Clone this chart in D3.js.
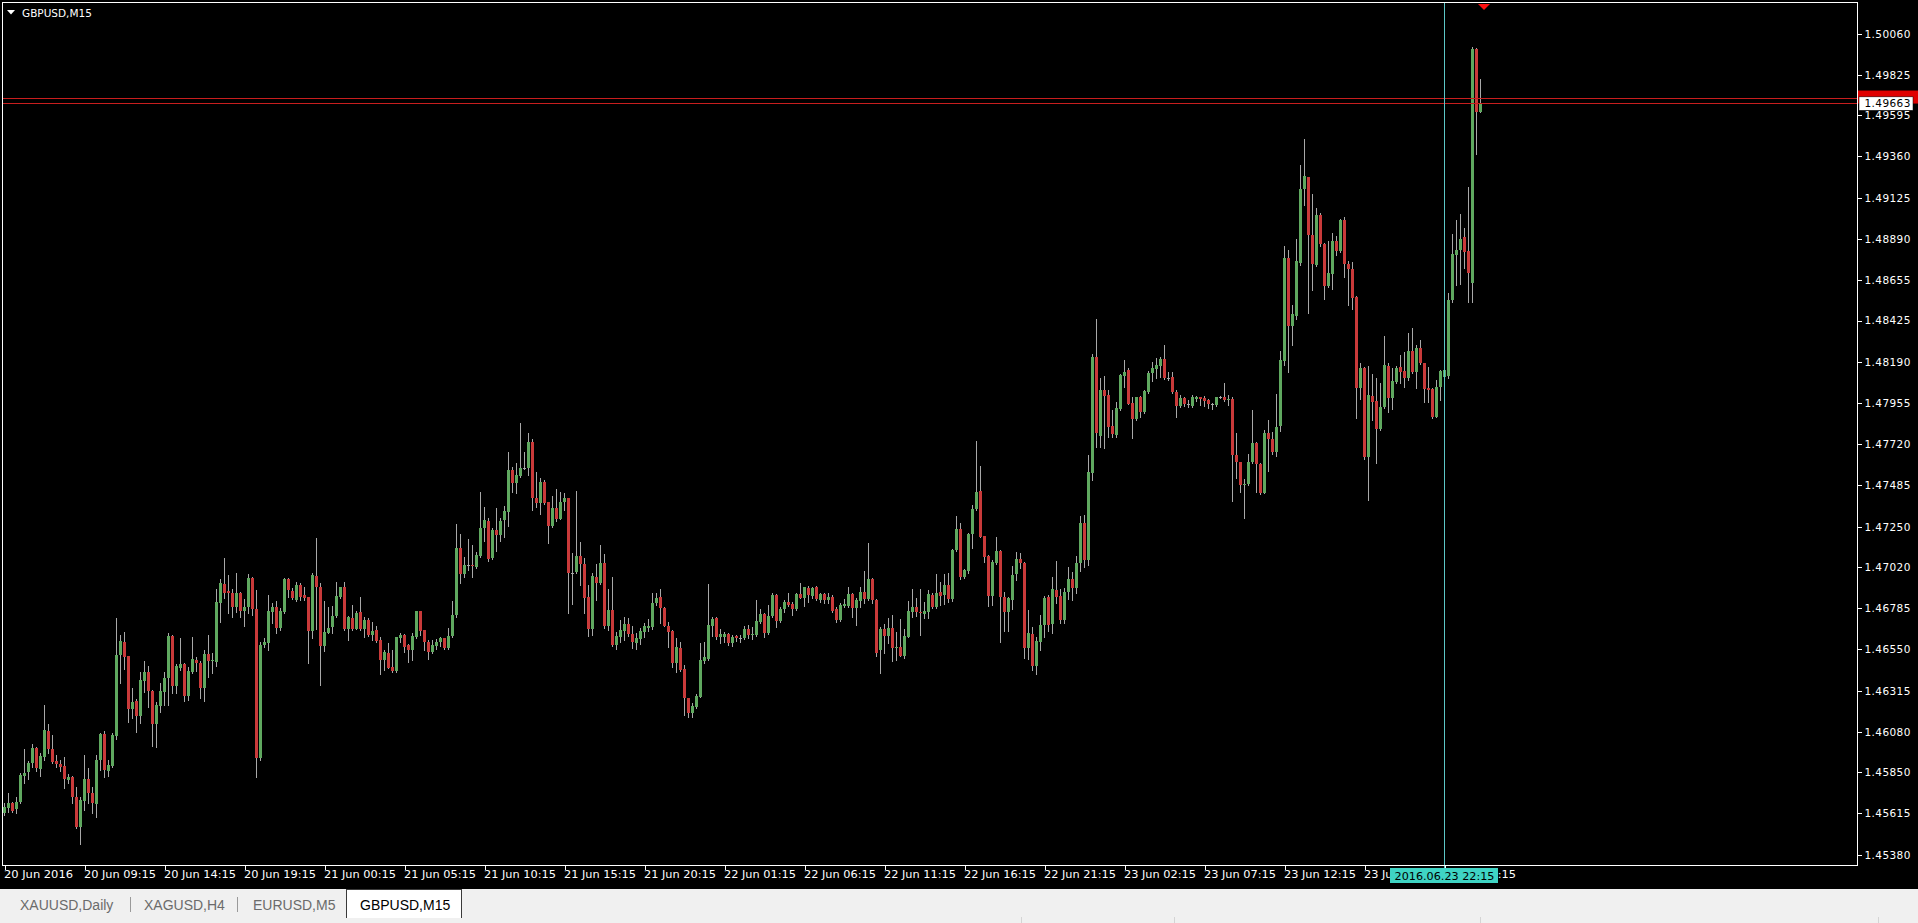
<!DOCTYPE html>
<html>
<head>
<meta charset="utf-8">
<script src="https://cdn.jsdelivr.net/npm/d3@7/dist/d3.min.js"></script>
<style>
  html, body { margin: 0; padding: 0; background: #000; overflow: hidden; }
  svg { display: block; }
</style>
</head>
<body>
<svg id="chart" width="1918" height="923"></svg>
<script>
// ---------------- DATA ----------------
const symbolTitle = "GBPUSD,M15";
const opens = [
1.45620,1.45648,1.45673,1.45639,1.45683,1.45829,1.45850,1.45901,1.45987,1.45871,
1.45939,1.46087,1.45981,1.45914,1.45897,1.45886,1.45806,1.45823,1.45707,1.45536,
1.45688,1.45810,1.45730,1.45669,1.45920,1.46068,1.45859,1.45888,1.46059,1.46519,
1.46591,1.46513,1.46209,1.46256,1.46173,1.46372,1.46420,1.46315,1.46123,1.46230,
1.46310,1.46386,1.46627,1.46344,1.46446,1.46465,1.46287,1.46423,1.46490,1.46471,
1.46332,1.46524,1.46486,1.46480,1.46817,1.46921,1.46883,1.46870,1.46794,1.46870,
1.46769,1.46790,1.46956,1.46779,1.45929,1.46575,1.46589,1.46766,1.46790,1.46671,
1.46766,1.46952,1.46883,1.46832,1.46918,1.46860,1.46847,1.46657,1.46969,1.46908,
1.46572,1.46646,1.46680,1.46741,1.46851,1.46904,1.46667,1.46728,1.46667,1.46762,
1.46667,1.46718,1.46633,1.46661,1.46604,1.46490,1.46528,1.46448,1.46429,1.46617,
1.46633,1.46574,1.46547,1.46623,1.46769,1.46661,1.46591,1.46538,1.46572,1.46591,
1.46614,1.46557,1.46629,1.46747,1.47130,1.46978,1.47031,1.47033,1.47022,1.47085,
1.47240,1.47282,1.47070,1.47231,1.47203,1.47288,1.47335,1.47573,1.47497,1.47541,
1.47583,1.47586,1.47731,1.47411,1.47383,1.47506,1.47389,1.47256,1.47355,1.47294,
1.47389,1.47411,1.46984,1.46990,1.47083,1.47037,1.46847,1.46667,1.46961,1.46927,
1.47041,1.46684,1.46775,1.46576,1.46623,1.46657,1.46695,1.46638,1.46589,1.46610,
1.46652,1.46674,1.46678,1.46813,1.46847,1.46785,1.46686,1.46655,1.46471,1.46560,
1.46437,1.46272,1.46186,1.46224,1.46281,1.46486,1.46494,1.46686,1.46727,1.46623,
1.46623,1.46638,1.46589,1.46627,1.46614,1.46614,1.46665,1.46632,1.46632,1.46709,
1.46750,1.46646,1.46741,1.46861,1.46714,1.46779,1.46819,1.46809,1.46781,1.46864,
1.46842,1.46902,1.46857,1.46904,1.46832,1.46864,1.46830,1.46847,1.46781,1.46718,
1.46798,1.46800,1.46866,1.46785,1.46828,1.46876,1.46836,1.46952,1.46832,1.46547,
1.46667,1.46629,1.46671,1.46557,1.46562,1.46515,1.46623,1.46766,1.46790,1.46766,
1.46752,1.46766,1.46861,1.46794,1.46876,1.46861,1.46918,1.46836,1.47117,1.47237,
1.46965,1.46999,1.47206,1.47349,1.47453,1.47197,1.47083,1.46857,1.47041,1.47113,
1.46851,1.46766,1.46832,1.46980,1.47066,1.47045,1.46560,1.46638,1.46456,1.46594,
1.46690,1.46847,1.46695,1.46889,1.46855,1.46718,1.46880,1.46950,1.46900,1.47040,
1.47273,1.47060,1.47558,1.48219,1.47769,1.48029,1.48001,1.47824,1.47772,1.47921,
1.48111,1.48143,1.47953,1.47862,1.47991,1.47902,1.48019,1.48124,1.48149,1.48168,
1.48204,1.48096,1.48101,1.48020,1.47940,1.47982,1.47949,1.47940,1.47976,1.47987,
1.47985,1.47972,1.47947,1.47944,1.47987,1.47987,1.47972,1.47978,1.47659,1.47617,
1.47488,1.47491,1.47617,1.47725,1.47605,1.47444,1.47782,1.47748,1.47678,1.47824,
1.48196,1.48783,1.48396,1.48451,1.48755,1.49173,1.49241,1.48913,1.48742,1.49027,
1.48861,1.48624,1.48690,1.48880,1.48823,1.48998,1.48745,1.48717,1.48561,1.48039,
1.48153,1.47649,1.47995,1.47966,1.47805,1.47930,1.48166,1.47982,1.48077,1.48162,
1.48137,1.48096,1.48251,1.48134,1.48266,1.48181,1.48039,1.48033,1.47877,1.48044,
1.48105,1.48111,1.48542,1.48799,1.48827,1.48899,1.48821,1.48641,1.49971,1.49615
];
const highs = [
1.45673,1.45730,1.45683,1.45707,1.45844,1.45981,1.45914,1.46011,1.45996,1.45958,
1.46234,1.46125,1.46063,1.45949,1.45920,1.45935,1.45838,1.45831,1.45764,1.45707,
1.45949,1.45873,1.45768,1.45949,1.46076,1.46087,1.45920,1.46076,1.46728,1.46633,
1.46650,1.46513,1.46329,1.46266,1.46424,1.46484,1.46456,1.46319,1.46253,1.46357,
1.46424,1.46642,1.46633,1.46467,1.46617,1.46471,1.46452,1.46619,1.46509,1.46486,
1.46547,1.46633,1.46532,1.46895,1.46950,1.47073,1.46975,1.46895,1.46984,1.46880,
1.46836,1.46980,1.46961,1.46889,1.46594,1.46614,1.46861,1.46817,1.46826,1.46785,
1.46959,1.46956,1.46902,1.46933,1.46927,1.46908,1.46851,1.46984,1.47187,1.46927,
1.46826,1.46790,1.46798,1.46933,1.46908,1.46933,1.46743,1.46803,1.46769,1.46851,
1.46737,1.46728,1.46705,1.46686,1.46623,1.46547,1.46585,1.46547,1.46623,1.46642,
1.46636,1.46581,1.46642,1.46771,1.46771,1.46661,1.46604,1.46604,1.46608,1.46623,
1.46617,1.46670,1.46826,1.47265,1.47208,1.47079,1.47178,1.47145,1.47107,1.47450,
1.47364,1.47297,1.47241,1.47355,1.47301,1.47368,1.47674,1.47588,1.47611,1.47839,
1.47678,1.47782,1.47748,1.47564,1.47526,1.47516,1.47392,1.47425,1.47463,1.47450,
1.47444,1.47415,1.47098,1.47453,1.47161,1.47070,1.46918,1.46988,1.47037,1.47145,
1.47094,1.46895,1.46965,1.46652,1.46718,1.46737,1.46731,1.46686,1.46642,1.46671,
1.46703,1.46722,1.46870,1.46874,1.46893,1.46794,1.46709,1.46661,1.46614,1.46595,
1.46462,1.46275,1.46243,1.46296,1.46589,1.46595,1.46923,1.46737,1.46737,1.46667,
1.46652,1.46642,1.46632,1.46632,1.46632,1.46684,1.46690,1.46680,1.46832,1.46779,
1.46756,1.46804,1.46870,1.46866,1.46794,1.46832,1.46870,1.46823,1.46870,1.46931,
1.46908,1.46912,1.46908,1.46912,1.46874,1.46874,1.46874,1.46861,1.46794,1.46813,
1.46836,1.46904,1.46874,1.46842,1.46904,1.46997,1.47155,1.46956,1.46836,1.46676,
1.46693,1.46728,1.46747,1.46652,1.46722,1.46665,1.46826,1.46893,1.46842,1.46893,
1.46822,1.46889,1.46874,1.46978,1.46937,1.46980,1.46984,1.47121,1.47311,1.47269,
1.47007,1.47212,1.47374,1.47738,1.47596,1.47197,1.47089,1.47060,1.47189,1.47117,
1.46880,1.46851,1.47028,1.47104,1.47098,1.47051,1.46775,1.46680,1.46623,1.46747,
1.46855,1.46861,1.46965,1.47054,1.46893,1.46900,1.47020,1.46990,1.47080,1.47311,
1.47317,1.47659,1.48234,1.48434,1.48096,1.48109,1.48029,1.47915,1.47959,1.48120,
1.48200,1.48153,1.47991,1.47991,1.47995,1.48029,1.48139,1.48191,1.48210,1.48219,
1.48286,1.48134,1.48134,1.48029,1.48001,1.47991,1.47972,1.48001,1.47997,1.47991,
1.47995,1.47978,1.47957,1.47991,1.47995,1.48067,1.48001,1.47991,1.47786,1.47621,
1.47520,1.47662,1.47915,1.47735,1.47611,1.47801,1.47858,1.47792,1.48004,1.48251,
1.48850,1.48827,1.48514,1.48890,1.49312,1.49460,1.49245,1.49146,1.49065,1.49036,
1.48865,1.48880,1.48922,1.48907,1.49006,1.49017,1.48764,1.48760,1.48565,1.48181,
1.48162,1.48168,1.48120,1.48096,1.48067,1.48337,1.48181,1.48153,1.48166,1.48228,
1.48248,1.48356,1.48381,1.48286,1.48314,1.48185,1.48162,1.48039,1.48086,1.48143,
1.48150,1.48584,1.48916,1.48998,1.49030,1.48951,1.49184,1.49986,1.49977,1.49802
];
const lows = [
1.45607,1.45626,1.45626,1.45620,1.45673,1.45787,1.45812,1.45882,1.45857,1.45829,
1.45920,1.45962,1.45901,1.45878,1.45857,1.45762,1.45787,1.45673,1.45530,1.45441,
1.45635,1.45673,1.45620,1.45597,1.45863,1.45825,1.45829,1.45878,1.46038,1.46357,
1.46437,1.46139,1.46158,1.46082,1.46129,1.46310,1.46224,1.46002,1.45996,1.46196,
1.46234,1.46234,1.46300,1.46300,1.46433,1.46258,1.46262,1.46418,1.46429,1.46272,
1.46258,1.46395,1.46414,1.46456,1.46709,1.46842,1.46760,1.46737,1.46766,1.46737,
1.46686,1.46756,1.46747,1.45825,1.45920,1.46566,1.46547,1.46703,1.46646,1.46661,
1.46760,1.46851,1.46836,1.46826,1.46832,1.46832,1.46475,1.46617,1.46665,1.46348,
1.46543,1.46642,1.46646,1.46737,1.46842,1.46661,1.46604,1.46661,1.46665,1.46661,
1.46623,1.46627,1.46604,1.46591,1.46410,1.46433,1.46442,1.46420,1.46424,1.46594,
1.46538,1.46480,1.46490,1.46614,1.46633,1.46547,1.46494,1.46532,1.46551,1.46570,
1.46551,1.46551,1.46623,1.46733,1.46927,1.46961,1.47003,1.46961,1.47012,1.47079,
1.47168,1.47056,1.47064,1.47113,1.47168,1.47193,1.47254,1.47450,1.47444,1.47535,
1.47577,1.47545,1.47345,1.47364,1.47322,1.47379,1.47159,1.47250,1.47284,1.47292,
1.47345,1.46760,1.46809,1.46984,1.46918,1.46760,1.46629,1.46633,1.46832,1.46923,
1.46671,1.46661,1.46570,1.46551,1.46594,1.46604,1.46629,1.46557,1.46553,1.46581,
1.46619,1.46657,1.46667,1.46804,1.46703,1.46684,1.46566,1.46452,1.46420,1.46429,
1.46177,1.46167,1.46163,1.46214,1.46277,1.46471,1.46490,1.46627,1.46608,1.46585,
1.46595,1.46576,1.46572,1.46600,1.46595,1.46608,1.46617,1.46608,1.46627,1.46699,
1.46619,1.46638,1.46733,1.46680,1.46709,1.46765,1.46798,1.46746,1.46775,1.46842,
1.46800,1.46819,1.46842,1.46832,1.46823,1.46813,1.46813,1.46766,1.46705,1.46712,
1.46794,1.46794,1.46737,1.46690,1.46794,1.46817,1.46832,1.46817,1.46513,1.46418,
1.46528,1.46585,1.46484,1.46490,1.46513,1.46500,1.46619,1.46737,1.46743,1.46632,
1.46728,1.46728,1.46788,1.46788,1.46804,1.46809,1.46823,1.46826,1.47113,1.46952,
1.46959,1.46984,1.47130,1.47345,1.47189,1.47047,1.46800,1.46804,1.47037,1.46595,
1.46655,1.46655,1.46781,1.46946,1.47013,1.46500,1.46494,1.46433,1.46408,1.46547,
1.46623,1.46655,1.46642,1.46813,1.46699,1.46700,1.46840,1.46830,1.46870,1.47000,
1.47020,1.47030,1.47516,1.47706,1.47706,1.47697,1.47763,1.47759,1.47763,1.47915,
1.48044,1.47947,1.47757,1.47858,1.47873,1.47896,1.48014,1.48082,1.48096,1.48101,
1.48092,1.48086,1.48010,1.47877,1.47934,1.47938,1.47934,1.47934,1.47968,1.47944,
1.47938,1.47925,1.47919,1.47938,1.47982,1.47968,1.47944,1.47396,1.47529,1.47450,
1.47297,1.47488,1.47611,1.47446,1.47436,1.47440,1.47569,1.47664,1.47653,1.47797,
1.48172,1.48130,1.48286,1.48432,1.48742,1.49084,1.48470,1.48599,1.48738,1.48850,
1.48548,1.48618,1.48605,1.48799,1.48817,1.48675,1.48514,1.48489,1.47868,1.47976,
1.47634,1.47402,1.47858,1.47611,1.47801,1.47925,1.47906,1.47919,1.48067,1.48067,
1.48044,1.48086,1.48124,1.48039,1.48175,1.47963,1.47963,1.47868,1.47873,1.47972,
1.48100,1.48096,1.48533,1.48627,1.48633,1.48726,1.48533,1.48533,1.49372,1.49612
];
const closes = [
1.45654,1.45673,1.45631,1.45683,1.45835,1.45844,1.45901,1.45987,1.45873,1.45943,
1.46091,1.45981,1.45910,1.45897,1.45882,1.45810,1.45823,1.45707,1.45536,1.45692,
1.45810,1.45730,1.45673,1.45920,1.46068,1.45863,1.45892,1.46063,1.46519,1.46598,
1.46509,1.46209,1.46249,1.46173,1.46376,1.46420,1.46315,1.46123,1.46234,1.46313,
1.46386,1.46627,1.46344,1.46456,1.46465,1.46287,1.46427,1.46496,1.46475,1.46332,
1.46522,1.46486,1.46492,1.46819,1.46927,1.46874,1.46874,1.46794,1.46870,1.46771,
1.46790,1.46956,1.46779,1.45933,1.46575,1.46591,1.46769,1.46790,1.46671,1.46769,
1.46952,1.46889,1.46842,1.46918,1.46851,1.46845,1.46657,1.46975,1.46908,1.46572,
1.46648,1.46671,1.46741,1.46855,1.46904,1.46667,1.46733,1.46667,1.46760,1.46667,
1.46718,1.46633,1.46655,1.46600,1.46490,1.46534,1.46446,1.46429,1.46619,1.46633,
1.46566,1.46547,1.46627,1.46769,1.46657,1.46591,1.46538,1.46576,1.46594,1.46615,
1.46560,1.46629,1.46747,1.47130,1.46978,1.47031,1.47033,1.47026,1.47089,1.47244,
1.47288,1.47064,1.47231,1.47203,1.47282,1.47339,1.47573,1.47501,1.47545,1.47583,
1.47587,1.47731,1.47411,1.47383,1.47506,1.47387,1.47256,1.47355,1.47292,1.47389,
1.47411,1.46984,1.46986,1.47083,1.47035,1.46845,1.46667,1.46969,1.46927,1.47041,
1.46684,1.46775,1.46576,1.46627,1.46661,1.46695,1.46638,1.46591,1.46614,1.46655,
1.46684,1.46684,1.46813,1.46842,1.46785,1.46686,1.46652,1.46471,1.46562,1.46433,
1.46272,1.46186,1.46228,1.46285,1.46490,1.46509,1.46689,1.46724,1.46623,1.46638,
1.46638,1.46589,1.46619,1.46614,1.46617,1.46665,1.46632,1.46636,1.46712,1.46752,
1.46646,1.46743,1.46861,1.46714,1.46781,1.46819,1.46804,1.46781,1.46864,1.46845,
1.46904,1.46861,1.46899,1.46836,1.46864,1.46832,1.46851,1.46771,1.46718,1.46804,
1.46807,1.46866,1.46785,1.46832,1.46876,1.46836,1.46952,1.46832,1.46532,1.46667,
1.46629,1.46671,1.46557,1.46562,1.46515,1.46627,1.46769,1.46790,1.46766,1.46760,
1.46769,1.46866,1.46794,1.46874,1.46857,1.46918,1.46836,1.47117,1.47237,1.46965,
1.47003,1.47208,1.47351,1.47449,1.47193,1.47075,1.46857,1.47051,1.47113,1.46847,
1.46766,1.46845,1.46975,1.47066,1.47041,1.46560,1.46646,1.46458,1.46598,1.46690,
1.46845,1.46690,1.46893,1.46851,1.46718,1.46880,1.46950,1.46900,1.47040,1.47273,
1.47060,1.47564,1.48219,1.47782,1.48029,1.47997,1.47820,1.47776,1.47925,1.48115,
1.48134,1.47949,1.47862,1.47987,1.47902,1.48023,1.48128,1.48153,1.48172,1.48204,
1.48096,1.48099,1.48016,1.47940,1.47982,1.47949,1.47951,1.47987,1.47987,1.47978,
1.47966,1.47947,1.47949,1.47987,1.47991,1.47972,1.47978,1.47659,1.47617,1.47488,
1.47491,1.47617,1.47725,1.47607,1.47444,1.47782,1.47748,1.47678,1.47816,1.48200,
1.48783,1.48396,1.48462,1.48764,1.49173,1.49249,1.48913,1.48745,1.49027,1.48861,
1.48624,1.48694,1.48880,1.48823,1.48998,1.48745,1.48717,1.48555,1.48039,1.48153,
1.47649,1.47999,1.47963,1.47805,1.47934,1.48172,1.47982,1.48080,1.48156,1.48134,
1.48096,1.48251,1.48134,1.48270,1.48181,1.48033,1.48029,1.47877,1.48044,1.48137,
1.48143,1.48542,1.48802,1.48827,1.48890,1.48817,1.48694,1.49971,1.49615,1.49663
];
const timeLabels = ["20 Jun 2016","20 Jun 09:15","20 Jun 14:15","20 Jun 19:15","21 Jun 00:15",
  "21 Jun 05:15","21 Jun 10:15","21 Jun 15:15","21 Jun 20:15","22 Jun 01:15","22 Jun 06:15",
  "22 Jun 11:15","22 Jun 16:15","22 Jun 21:15","23 Jun 02:15","23 Jun 07:15","23 Jun 12:15",
  "23 Jun 17:15","23 Jun 22:15"];
const timeLabelBars = [0,20,40,60,80,100,120,140,160,180,200,220,240,260,280,300,320,340,360];
const priceTicks = [1.50060,1.49825,1.49595,1.49360,1.49125,1.48890,1.48655,1.48425,1.48190,
  1.47955,1.47720,1.47485,1.47250,1.47020,1.46785,1.46550,1.46315,1.46080,1.45850,1.45615,1.45380];
const bidPrice = 1.49663;
const askPrice = 1.49696;
const cursorBar = 360;
const cursorLabel = "2016.06.23 22:15";
const tabNames = ["XAUUSD,Daily","XAGUSD,H4","EURUSD,M5","GBPUSD,M15"];
const activeTab = 3;

// ---------------- LAYOUT ----------------
const W = 1918, H = 923;
const frame = {l: 2.5, t: 2.5, r: 1857.5, b: 865.5};
const svg = d3.select("#chart");

const x = d3.scaleLinear().domain([0, 1]).range([4.5, 8.5]);
const y = d3.scaleLinear().domain([1.45380, 1.50060]).range([854.7, 33.7]);

const bullFill = "#5fa85f", bearFill = "#c93a3a", wickCol = "#a8a8a8";

svg.append("rect").attr("x",0).attr("y",0).attr("width",W).attr("height",H).attr("fill","#000");

// clip
svg.append("clipPath").attr("id","plotclip").append("rect")
  .attr("x",frame.l+0.5).attr("y",frame.t+0.5)
  .attr("width",frame.r-frame.l-1).attr("height",frame.b-frame.t-1);

const plot = svg.append("g").attr("clip-path","url(#plotclip)").attr("shape-rendering","crispEdges");

const bars = d3.range(opens.length).map(i => ({i, o: opens[i], h: highs[i], l: lows[i], c: closes[i]}));

const g = plot.selectAll("g.candle").data(bars).join("g").attr("class","candle");
g.append("line")
  .attr("x1", d => x(d.i)).attr("x2", d => x(d.i))
  .attr("y1", d => Math.round(y(d.h))).attr("y2", d => Math.round(y(d.l)) + 1)
  .attr("stroke", wickCol).attr("stroke-width", 1);
g.append("rect")
  .attr("x", d => x(d.i) - 1.5)
  .attr("width", 3)
  .attr("y", d => Math.round(y(Math.max(d.o, d.c))))
  .attr("height", d => Math.max(1, Math.round(y(Math.min(d.o, d.c))) - Math.round(y(Math.max(d.o, d.c)))))
  .attr("fill", d => {
    const hgt = Math.round(y(Math.min(d.o, d.c))) - Math.round(y(Math.max(d.o, d.c)));
    if (hgt < 1) return wickCol;
    return d.c >= d.o ? bullFill : bearFill;
  });

// bid / ask lines
[askPrice, bidPrice].forEach(p => {
  plot.append("line").attr("x1", frame.l).attr("x2", frame.r)
    .attr("y1", Math.round(y(p)) + 0.5).attr("y2", Math.round(y(p)) + 0.5)
    .attr("stroke", "#c81e1e").attr("stroke-width", 1);
});

// cursor vertical line
svg.append("line").attr("x1", x(cursorBar)).attr("x2", x(cursorBar))
  .attr("y1", frame.t).attr("y2", frame.b + 2)
  .attr("stroke", "#5cc6c6").attr("stroke-width", 1).attr("shape-rendering","crispEdges");

// frame
svg.append("rect").attr("x", frame.l).attr("y", frame.t)
  .attr("width", frame.r - frame.l).attr("height", frame.b - frame.t)
  .attr("fill","none").attr("stroke","#fff").attr("stroke-width",1).attr("shape-rendering","crispEdges");

// chart shift marker
svg.append("path").attr("d","M1478,4 L1490,4 L1484,10 Z").attr("fill","#ff1010");

// title
svg.append("path").attr("d","M7,10 L15,10 L11,14.5 Z").attr("fill","#fff");
svg.append("text").attr("x",22).attr("y",17).attr("fill","#fff")
  .attr("font-family","'DejaVu Sans', sans-serif").attr("font-size","10.5px").text(symbolTitle);

// right price axis
const yAxis = d3.axisRight(y).tickValues(priceTicks).tickFormat(d3.format(".5f")).tickSize(4).tickPadding(3);
const ya = svg.append("g").attr("transform", `translate(${frame.r},0)`).call(yAxis);
ya.select(".domain").remove();
ya.selectAll(".tick line").attr("stroke","#fff").attr("shape-rendering","crispEdges");
ya.selectAll(".tick text").attr("fill","#fff")
  .attr("font-family","'DejaVu Sans', sans-serif").attr("font-size","10.5px")
  .attr("letter-spacing","0.4px");

// ask / bid labels (ask label sits behind the bid label, as in the terminal)
const askY = y(askPrice), bidY = y(bidPrice);
svg.append("rect").attr("x", frame.r + 0.5).attr("y", askY - 7).attr("width", W - frame.r).attr("height", 13).attr("fill","#e00000");
svg.append("rect").attr("x", frame.r + 1.5).attr("y", bidY - 6.5).attr("width", 54).attr("height", 13.5)
  .attr("fill","#fff").attr("stroke","#000").attr("stroke-width",0.5);
svg.append("text").attr("x", frame.r + 7).attr("y", bidY + 4).attr("fill","#000")
  .attr("font-family","'DejaVu Sans', sans-serif").attr("font-size","10.5px").attr("letter-spacing","0.4px")
  .text(bidPrice.toFixed(5));

// bottom time axis
const xAxis = d3.axisBottom(x).tickValues(timeLabelBars)
  .tickFormat((d, k) => timeLabels[k]).tickSize(4).tickPadding(1);
const xa = svg.append("g").attr("transform", `translate(0,${frame.b})`).call(xAxis);
xa.select(".domain").remove();
xa.selectAll(".tick line").attr("stroke","#fff").attr("shape-rendering","crispEdges");
xa.selectAll(".tick text").attr("fill","#fff").attr("text-anchor","start").attr("dx","-1")
  .attr("font-family","'DejaVu Sans Condensed','DejaVu Sans', sans-serif").attr("font-size","10.5px")
  .attr("textLength", (d, k) => k === 0 ? 69 : 72).attr("lengthAdjust","spacingAndGlyphs");

// cursor time label
const cx = x(cursorBar);
svg.append("rect").attr("x", cx - 54.5).attr("y", 868).attr("width", 108).attr("height", 15).attr("fill","#3fd4c4");
svg.append("text").attr("x", cx).attr("y", 880).attr("text-anchor","middle").attr("fill","#000")
  .attr("font-family","'DejaVu Sans Condensed','DejaVu Sans', sans-serif").attr("font-size","10.5px")
  .attr("textLength", 100).attr("lengthAdjust","spacingAndGlyphs").text(cursorLabel);

// tab bar
svg.append("rect").attr("x",0).attr("y",889).attr("width",W).attr("height",H-889).attr("fill","#f0f0f0");
const tabX = [20, 144, 253, 360];
const sepX = [130.5, 237.5];
sepX.forEach(sx => svg.append("line").attr("x1",sx).attr("x2",sx).attr("y1",897).attr("y2",912)
  .attr("stroke","#9a9a9a").attr("shape-rendering","crispEdges"));
svg.append("path").attr("d","M346.5,918 L346.5,889.5 L461.5,889.5 L461.5,918")
  .attr("fill","#fff").attr("stroke","#3a3a3a").attr("stroke-width",1).attr("shape-rendering","crispEdges");
svg.append("rect").attr("x",347).attr("y",890).attr("width",114).attr("height",28).attr("fill","#fff");
tabNames.forEach((t, k) => {
  svg.append("text").attr("x", tabX[k]).attr("y", 910)
    .attr("fill", k === activeTab ? "#000" : "#6b6b6b")
    .attr("font-family","'Liberation Sans', Arial, sans-serif").attr("font-size","14px").text(t);
});
[1021.5, 1174.5, 1480.5, 1878.5].forEach(sx => svg.append("line").attr("x1",sx).attr("x2",sx)
  .attr("y1",917).attr("y2",923).attr("stroke","#d4d4d4").attr("shape-rendering","crispEdges"));
</script>
</body>
</html>
